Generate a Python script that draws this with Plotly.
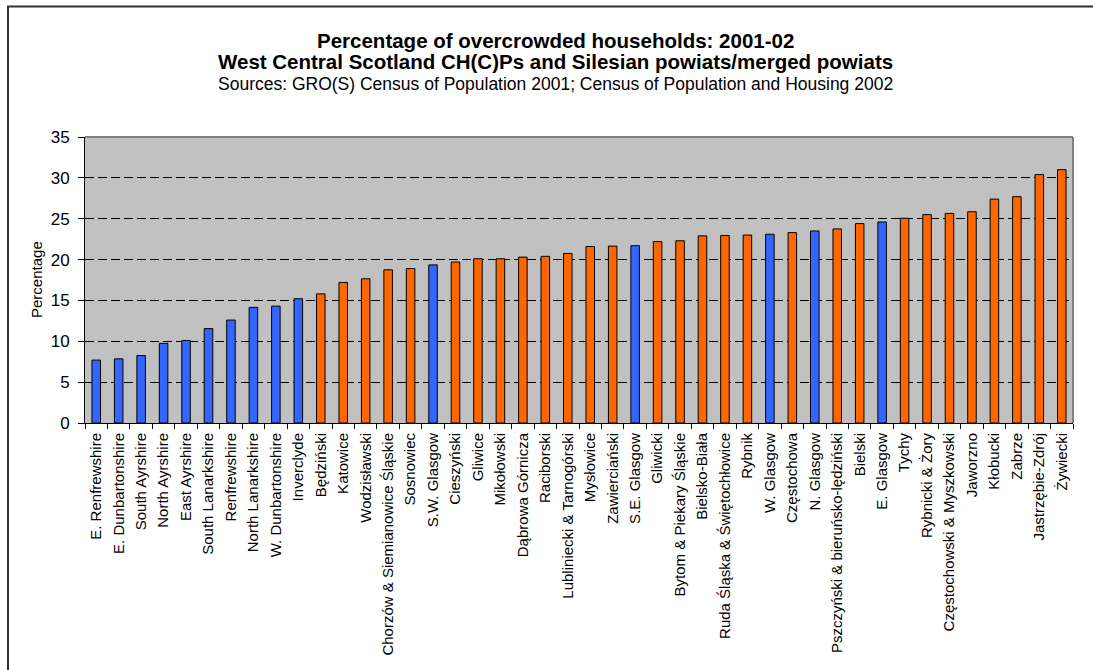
import plotly.graph_objects as go

categories = [
    "E. Renfrewshire", "E. Dunbartonshire", "South Ayrshire", "North Ayrshire",
    "East Ayrshire", "South Lanarkshire", "Renfrewshire", "North Lanarkshire",
    "W. Dunbartonshire", "Inverclyde", "Będziński", "Katowice", "Wodzisławski",
    "Chorzów & Siemianowice Śląskie", "Sosnowiec", "S.W. Glasgow", "Cieszyński",
    "Gliwice", "Mikołowski", "Dąbrowa Górnicza", "Raciborski",
    "Lubliniecki & Tarnogórski", "Mysłowice", "Zawierciański", "S.E. Glasgow",
    "Gliwicki", "Bytom & Piekary Śląskie", "Bielsko-Biała",
    "Ruda Śląska & Świętochłowice", "Rybnik", "W. Glasgow", "Częstochowa",
    "N. Glasgow", "Pszczyński & bieruńsko-lędziński", "Bielski", "E. Glasgow",
    "Tychy", "Rybnicki & Żory", "Częstochowski & Myszkowski", "Jaworzno",
    "Kłobucki", "Zabrze", "Jastrzębie-Zdrój", "Żywiecki",
]

values = [
    7.7, 7.85, 8.25, 9.75, 10.1, 11.55, 12.6, 14.15, 14.3, 15.2,
    15.8, 17.2, 17.65, 18.75, 18.9, 19.35, 19.7, 20.1, 20.1, 20.3,
    20.4, 20.75, 21.6, 21.65, 21.7, 22.2, 22.3, 22.9, 22.95, 23.0,
    23.1, 23.3, 23.5, 23.75, 24.4, 24.6, 25.05, 25.5, 25.65, 25.85,
    27.4, 27.7, 30.4, 31.0,
]

# "S" = West Central Scotland CH(C)P, "P" = Silesian powiat
region = [
    "S", "S", "S", "S", "S", "S", "S", "S", "S", "S",
    "P", "P", "P", "P", "P", "S", "P", "P", "P", "P",
    "P", "P", "P", "P", "S", "P", "P", "P", "P", "P",
    "S", "P", "S", "P", "P", "S", "P", "P", "P", "P",
    "P", "P", "P", "P",
]

y_ticks = [0, 5, 10, 15, 20, 25, 30, 35]

title_lines = [
    "Percentage of overcrowded households: 2001-02",
    "West Central Scotland CH(C)Ps and Silesian powiats/merged powiats",
]
subtitle = "Sources: GRO(S) Census of Population 2001; Census of Population and Housing 2002"
y_title = "Percentage"

colour_map = {"S": "#3366FF", "P": "#FF6600"}
colours = [colour_map[r] for r in region]

FONT = "Arial, Liberation Sans, sans-serif"

# layout geometry (figure pixels)
L, R, T, B = 85, 20, 137, 247
W, H = 1093, 670
PW, PH = W - L - R, H - T - B


def px_x(x):
    return (x - L) / PW


def px_y(y):
    return (H - B - y) / PH


fig = go.Figure(
    go.Bar(
        x=categories,
        y=values,
        marker=dict(color=colours, line=dict(color="black", width=1)),
        hoverinfo="x+y",
    )
)

fig.update_layout(
    width=W,
    height=H,
    margin=dict(l=L, r=R, t=T, b=B, autoexpand=False),
    paper_bgcolor="white",
    plot_bgcolor="#C0C0C0",
    bargap=0.62,
    showlegend=False,
    font=dict(family=FONT, color="black", size=15),
)

fig.update_xaxes(
    type="category",
    tickangle=-90,
    tickson="boundaries",
    ticks="outside",
    ticklen=5,
    tickcolor="black",
    showline=True,
    linecolor="black",
    linewidth=1,
    showgrid=False,
    automargin=False,
    ticklabelstandoff=3,
    tickfont=dict(family=FONT, size=15, color="black"),
)

fig.update_yaxes(
    range=[0, 35],
    tickvals=y_ticks,
    ticks="outside",
    ticklen=6,
    tickcolor="black",
    showline=True,
    linecolor="black",
    linewidth=1,
    showgrid=True,
    gridcolor="black",
    gridwidth=1,
    griddash="9px,4px",
    zeroline=False,
    automargin=False,
    ticklabelstandoff=5,
    tickfont=dict(family=FONT, size=17, color="black"),
)

annotations = [
    dict(text=f"<b>{title_lines[0]}</b>", x=px_x(555), y=px_y(40),
         font=dict(family=FONT, size=20.5, color="black")),
    dict(text=f"<b>{title_lines[1]}</b>", x=px_x(555), y=px_y(61.5),
         font=dict(family=FONT, size=20.5, color="black")),
    dict(text=subtitle, x=px_x(555), y=px_y(83.5),
         font=dict(family=FONT, size=17.5, color="black")),
    dict(text=y_title, x=px_x(36), y=0.5, textangle=-90,
         font=dict(family=FONT, size=15, color="black")),
]
for a in annotations:
    a.update(xref="paper", yref="paper", xanchor="center", yanchor="middle",
             showarrow=False)
fig.update_layout(annotations=annotations)

# plot-area right / top edges (grey) and outer chart frame
fig.add_shape(type="line", xref="paper", yref="paper", x0=1, x1=1, y0=0, y1=1,
              line=dict(color="#808080", width=2), layer="above")
fig.add_shape(type="line", xref="paper", yref="paper", x0=0, x1=1, y0=1, y1=1,
              line=dict(color="#808080", width=2), layer="below")
fig.add_shape(type="rect", xref="paper", yref="paper",
              x0=px_x(8), x1=px_x(1130), y0=px_y(700), y1=px_y(6.5),
              line=dict(color="#333333", width=2), layer="above")

fig.write_html(
    "out.html",
    config={"displayModeBar": False},
    post_script="document.body.style.margin='0';document.body.style.overflow='hidden';",
)
